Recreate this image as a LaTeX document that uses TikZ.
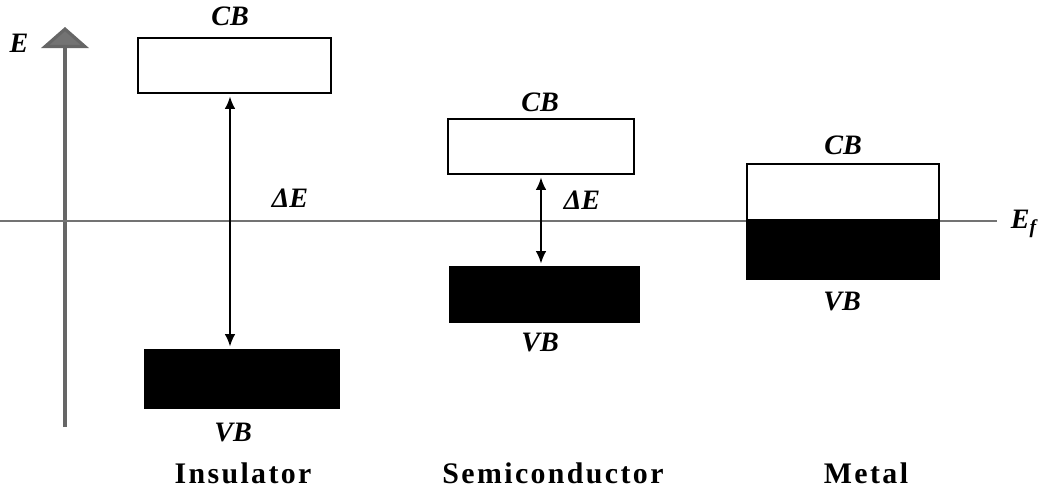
\documentclass[tikz,border=0pt]{standalone}
\usepackage{fontspec}
\setmainfont{Liberation Serif}
\usetikzlibrary{arrows.meta}

\begin{document}
\begin{tikzpicture}[x=0.02cm,y=-0.02cm,>={Latex[length=7pt,width=6pt]}]
  \tikzstyle{band}=[draw,line width=1.1pt,inner sep=0pt,outer sep=0pt,minimum width=3.86cm]
  \tikzstyle{cband}=[band,fill=white]
  \tikzstyle{vband}=[band,fill=black]
  \tikzstyle{lbl}=[font=\fontsize{16}{18}\selectfont\bfseries\itshape,inner sep=1pt]
  \tikzstyle{kind}=[font=\fontsize{17}{19}\selectfont\bfseries\addfontfeature{LetterSpace=8},inner sep=1pt]

  \useasboundingbox[fill=white] (0,0) rectangle (1043,496);

  % energy axis and Fermi level
  \coordinate (axisbot) at (65,427);
  \coordinate (axistop) at (65,27);
  \draw[black!60,line width=1.8pt,-{Triangle[width=27pt,length=12pt,fill=black!55]}] (axisbot) -- (axistop);
  \node[lbl] (elabel) at (19,43) {E};
  \coordinate (efleft) at (0,221);
  \coordinate (efright) at (997,221);
  \draw[black!55,line width=1.6pt] (efleft) -- (efright);
  \node[lbl] (eflabel) at (1024,224) {E\textsubscript{f}};

  % insulator
  \node[cband,minimum height=1.1cm] (inscb) at (234.5,65.5) {};
  \node[vband,minimum width=3.88cm,minimum height=1.16cm] (insvb) at (242,379) {};
  \node[lbl] (inscbl) at (230,16) {CB};
  \node[lbl] (insvbl) at (233,433) {VB};
  \node[lbl] (insgap) at (290,198) {ΔE};
  \node[kind] (ins) at (243,473) {Insulator};
  \draw[<->,line width=1pt,shorten <=2pt,shorten >=2pt] ([xshift=-0.09cm]inscb.south) -- ([xshift=-0.09cm]inscb.south |- insvb.north);

  % semiconductor
  \node[cband,minimum width=3.72cm,minimum height=1.1cm] (semcb) at (541,146.5) {};
  \node[vband,minimum width=3.78cm,minimum height=1.1cm] (semvb) at (544.5,294.5) {};
  \node[lbl] (semcbl) at (540,102) {CB};
  \node[lbl] (semvbl) at (540,343) {VB};
  \node[lbl] (semgap) at (582,200) {ΔE};
  \node[kind] (sem) at (553,473) {Semiconductor};
  \draw[<->,line width=1pt,shorten <=2pt,shorten >=2pt] (semcb.south) -- (semcb.south |- semvb.north);

  % metal
  \node[cband,minimum width=3.84cm,minimum height=1.12cm] (metcb) at (843,192) {};
  \node[vband,minimum width=3.84cm,minimum height=1.18cm] (metvb) at (843,249.5) {};
  \node[lbl] (metcbl) at (843,145) {CB};
  \node[lbl] (metvbl) at (842,302) {VB};
  \node[kind] (met) at (866,473) {Metal};
\end{tikzpicture}
\end{document}
